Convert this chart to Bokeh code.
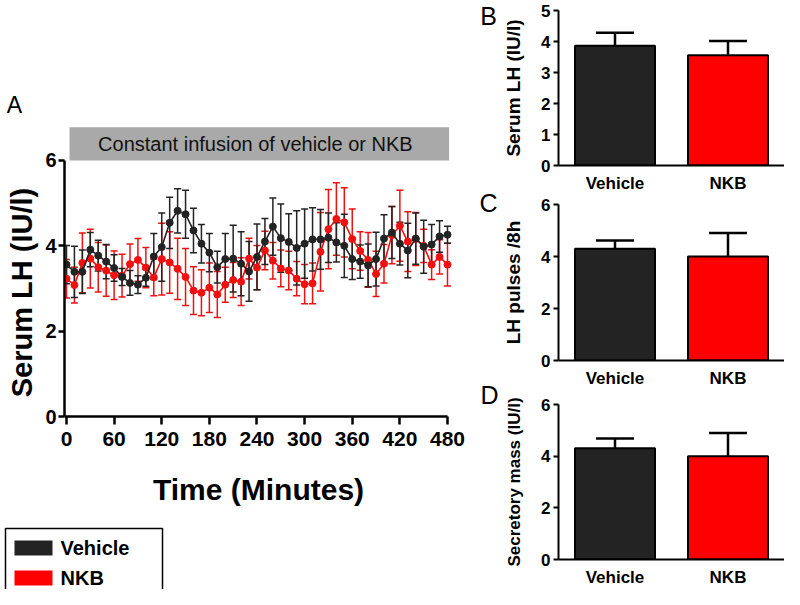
import math
from bokeh.plotting import figure
from bokeh.models import (ColumnDataSource, Whisker, TeeHead, Range1d, FixedTicker,
                          BoxAnnotation, Label, FactorRange)
from bokeh.layouts import row, column
from bokeh.embed import file_html
from bokeh.resources import INLINE
from bokeh.core.properties import value

# ---------------- data ----------------
time_min = list(range(0, 490, 10))
vehicle_mean = [3.56, 3.39, 3.39, 3.91, 3.77, 3.63, 3.48, 3.27, 3.13, 3.09, 3.25, 3.75, 3.97, 4.54,
                4.82, 4.74, 4.36, 4.05, 3.84, 3.50, 3.69, 3.70, 3.58, 3.40, 3.74, 4.10, 4.45, 4.18,
                4.09, 3.95, 4.05, 4.15, 4.15, 4.19, 4.08, 4.00, 3.69, 3.63, 3.54, 3.69, 4.17, 4.31,
                4.05, 3.89, 4.17, 3.98, 4.03, 4.22, 4.26]
vehicle_sem = [0.45, 0.60, 0.51, 0.40, 0.36, 0.40, 0.31, 0.20, 0.29, 0.21, 0.20, 0.54, 0.80, 0.60,
               0.52, 0.56, 0.52, 0.45, 0.45, 0.37, 0.60, 0.78, 0.75, 0.70, 0.77, 0.54, 0.67, 0.80,
               0.66, 0.87, 0.81, 0.74, 0.70, 0.58, 0.46, 0.74, 0.48, 0.39, 0.50, 0.63, 0.56, 0.61,
               0.50, 0.64, 0.60, 0.62, 0.47, 0.37, 0.20]
nkb_mean = [3.23, 3.08, 3.60, 3.70, 3.50, 3.42, 3.31, 3.30, 3.57, 3.67, 3.49, 3.26, 3.69, 3.61,
            3.46, 3.27, 2.95, 2.90, 3.02, 2.86, 3.09, 3.20, 3.16, 3.70, 3.49, 3.89, 3.65, 3.47,
            3.42, 3.23, 3.10, 3.12, 3.86, 4.39, 4.63, 4.55, 4.16, 3.88, 3.67, 3.34, 3.58, 4.25,
            4.47, 4.10, 4.16, 4.00, 3.56, 3.74, 3.56]
nkb_sem = [0.45, 0.42, 0.70, 0.69, 0.58, 0.60, 0.57, 0.50, 0.47, 0.50, 0.47, 0.43, 0.84, 0.72,
           0.72, 0.67, 0.56, 0.54, 0.58, 0.54, 0.41, 0.41, 0.56, 0.48, 0.52, 0.45, 0.43, 0.43,
           0.45, 0.40, 0.46, 0.48, 0.92, 0.93, 0.85, 0.81, 0.70, 0.45, 0.64, 0.53, 0.45, 0.67,
           0.83, 0.70, 0.62, 0.39, 0.35, 0.40, 0.50]
time_ticks = [0, 60, 120, 180, 240, 300, 360, 420, 480]
lh_ticks = [0, 2, 4, 6]
infusion_text = "Constant infusion of vehicle or NKB"
infusion_span = (3.8, 482.0, 6.0, 6.78)

groups = ["Vehicle", "NKB"]
serum_lh = [3.86, 3.56]
serum_lh_sem = [0.42, 0.46]
lh_pulses = [4.30, 4.00]
lh_pulses_sem = [0.32, 0.90]
secretory_mass = [4.31, 4.00]
secretory_mass_sem = [0.37, 0.90]
panel_letters = ["B", "C", "D"]

BLACK = "#232323"
RED = "#f01010"
BAR_RED = "#ff0000"
FONT = "Liberation Sans"

MAIN_TOP = 90
MAIN_BOTTOM = 94
MAIN_H = 510


def blank(width, height, top=0, bottom=0):
    f = figure(width=width, height=height, output_backend="svg", toolbar_location=None,
               x_range=Range1d(0, width), y_range=Range1d(height - bottom, top),
               min_border_left=0, min_border_right=0, min_border_top=top,
               min_border_bottom=bottom)
    f.axis.visible = False
    f.grid.visible = False
    f.outline_line_color = None
    return f


# ---------------- main panel A ----------------
p = figure(width=436, height=MAIN_H, output_backend="svg", toolbar_location=None,
           x_range=Range1d(-2.5, 486.3), y_range=Range1d(0, 7.64),
           min_border_left=21, min_border_right=26, min_border_top=MAIN_TOP,
           min_border_bottom=MAIN_BOTTOM)
p.outline_line_color = None
p.xgrid.visible = False
p.ygrid.visible = False

p.add_layout(BoxAnnotation(left=infusion_span[0], right=infusion_span[1],
                           bottom=infusion_span[2], top=infusion_span[3],
                           fill_color="#a9a9a9", fill_alpha=1.0, line_color=None, level="underlay"))
p.add_layout(Label(x=238, y=(infusion_span[2] + infusion_span[3]) / 2, text=infusion_text,
                   text_font=FONT, text_font_size="20px", text_color="#111111",
                   text_align="center", text_baseline="middle"))

series = [
    (nkb_mean, nkb_sem, RED),
    (vehicle_mean, vehicle_sem, BLACK),
]
for mean, sem, col in series:
    src = ColumnDataSource(dict(t=time_min, m=mean,
                                lo=[a - b for a, b in zip(mean, sem)],
                                hi=[a + b for a, b in zip(mean, sem)]))
    p.add_layout(Whisker(base="t", upper="hi", lower="lo", source=src, dimension="height",
                         line_color=col, line_width=1.5, level="underlay",
                         upper_head=TeeHead(size=7, line_color=col, line_width=1.5),
                         lower_head=TeeHead(size=7, line_color=col, line_width=1.5)))
for mean, sem, col in series:
    src = ColumnDataSource(dict(t=time_min, m=mean))
    p.line("t", "m", source=src, line_color=col, line_width=1.6)
    p.scatter("t", "m", source=src, size=7, fill_color=col, line_color=col)

for ax in (p.xaxis[0], p.yaxis[0]):
    ax.axis_line_width = 2.5
    ax.axis_line_color = "black"
    ax.major_tick_line_width = 2.5
    ax.major_tick_in = 0
    ax.minor_tick_line_color = None
    ax.major_label_text_font = FONT
    ax.major_label_text_font_style = "bold"
    ax.major_label_text_color = "black"

p.xaxis.ticker = FixedTicker(ticks=time_ticks)
p.xaxis.bounds = (-3, 480)
p.xaxis.major_tick_out = 8
p.xaxis.major_label_text_font_size = "21px"
p.xaxis.major_label_standoff = 7
p.xaxis.axis_label = "Time (Minutes)"
p.xaxis.axis_label_text_font = FONT
p.xaxis.axis_label_text_font_style = "bold"
p.xaxis.axis_label_text_font_size = "30px"
p.xaxis.axis_label_text_color = "black"
p.xaxis.axis_label_standoff = 24

p.yaxis.ticker = FixedTicker(ticks=lh_ticks)
p.yaxis.bounds = (0, 6)
p.yaxis.major_tick_out = 6
p.yaxis.major_label_text_font_size = "20px"
p.yaxis.major_label_standoff = 2

# left strip with panel letter A and the y-axis title (frame aligned with the main frame)
side = blank(42, MAIN_H, top=MAIN_TOP, bottom=MAIN_BOTTOM)
side.text(x=[14], y=[104], text=["A"], text_font=value(FONT), text_font_size="23px",
          text_color="black", text_align="center", text_baseline="middle")
side.text(x=[21], y=[292], text=["Serum LH (IU/l)"], angle=math.pi / 2,
          text_font=value(FONT), text_font_style="bold", text_font_size="29px",
          text_color="black", text_align="center", text_baseline="middle")

# ---------------- legend ----------------
lg = blank(478, 79)
lg.quad(left=[5], right=[162], top=[18], bottom=[140], fill_color=None,
        line_color="black", line_width=1.5)
leg_src = ColumnDataSource(dict(name=groups, col=[BLACK, BAR_RED], top=[30, 60], bot=[45, 75],
                                ty=[37.5, 67.5]))
lg.quad(left=14, right=52, top="top", bottom="bot", fill_color="col", line_color=None,
        source=leg_src)
lg.text(x=60, y="ty", text="name", source=leg_src, text_font=value(FONT), text_font_style="bold",
        text_font_size="20px", text_color="black", text_baseline="middle", text_align="left")

# ---------------- panel letters B, C, D ----------------
letters = blank(22, 589)
letters.text(x=[10, 10, 11], y=[15, 202, 394], text=panel_letters, text_font=value(FONT),
             text_font_size="25px", text_color="black", text_align="center",
             text_baseline="middle")


# ---------------- right panels ----------------
def bar_panel(height, top_b, bottom_b, ymax, ticks, means, sems, ylabel, label_size):
    f = figure(width=284, height=height, output_backend="svg", toolbar_location=None,
               x_range=FactorRange(factors=groups, range_padding=0),
               y_range=Range1d(0, ymax),
               min_border_left=58, min_border_right=0, min_border_top=top_b,
               min_border_bottom=bottom_b)
    f.outline_line_color = None
    f.grid.visible = False
    src = ColumnDataSource(dict(g=groups, m=means, hi=[a + b for a, b in zip(means, sems)],
                                col=[BLACK, BAR_RED]))
    f.add_layout(Whisker(base="g", upper="hi", lower="m", source=src, dimension="height",
                         line_color="black", line_width=2.5, level="underlay",
                         upper_head=TeeHead(size=38, line_color="black", line_width=2.5),
                         lower_head=None))
    f.vbar(x="g", top="m", width=0.708, bottom=0, source=src, fill_color="col",
           line_color="black", line_width=2)
    for ax in (f.xaxis[0], f.yaxis[0]):
        ax.axis_line_width = 2
        ax.axis_line_color = "black"
        ax.major_tick_line_width = 2
        ax.major_tick_in = 0
        ax.minor_tick_line_color = None
        ax.major_label_text_font = FONT
        ax.major_label_text_font_style = "bold"
        ax.major_label_text_font_size = "17px"
        ax.major_label_text_color = "black"
    f.xaxis.major_tick_out = 0
    f.xaxis.major_label_standoff = 8
    f.yaxis.ticker = FixedTicker(ticks=ticks)
    f.yaxis.bounds = (0, ymax)
    f.yaxis.major_tick_out = 5
    f.yaxis.major_label_standoff = 3
    f.yaxis.axis_label = ylabel
    f.yaxis.axis_label_text_font = FONT
    f.yaxis.axis_label_text_font_style = "bold"
    f.yaxis.axis_label_text_font_size = label_size
    f.yaxis.axis_label_text_color = "black"
    f.yaxis.axis_label_standoff = 14
    return f


pb = bar_panel(195, 10, 29, 5, [0, 1, 2, 3, 4, 5], serum_lh, serum_lh_sem,
               "Serum LH (IU/l)", "19px")
pc = bar_panel(197, 9, 32, 6, [0, 2, 4, 6], lh_pulses, lh_pulses_sem,
               "LH pulses /8h", "19px")
pd = bar_panel(197, 12, 29, 6, [0, 2, 4, 6], secretory_mass, secretory_mass_sem,
               "Secretory mass (IU/l)", "17px")

left = column(row(side, p, spacing=0), lg, spacing=0)
layout = row(left, letters, column(pb, pc, pd, spacing=0), spacing=0)
open("out.html", "w").write(file_html(layout, INLINE))
